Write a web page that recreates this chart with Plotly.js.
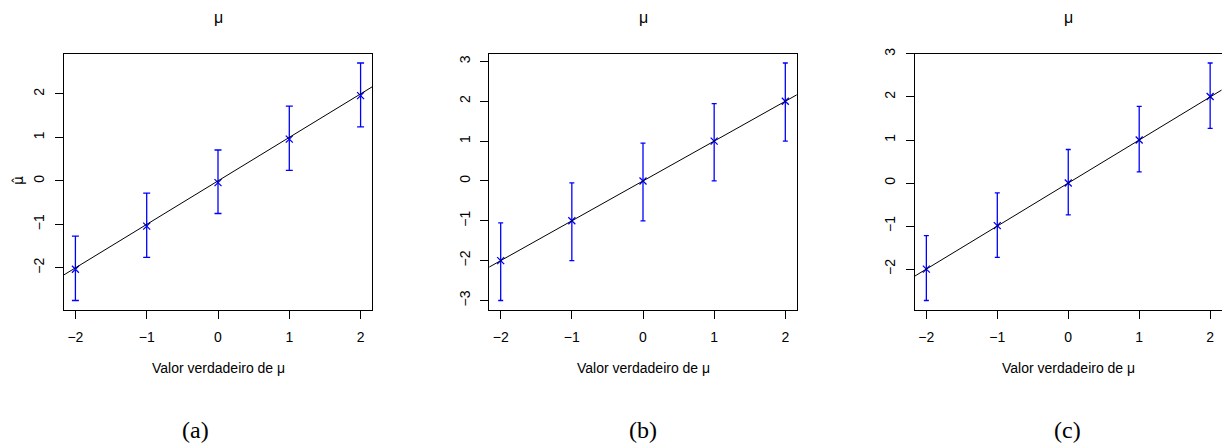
<!DOCTYPE html>
<html>
<head>
<meta charset="utf-8">
<script src="https://cdn.plot.ly/plotly-3.0.1.min.js"></script>
<style>
  html, body { margin: 0; padding: 0; background: #fff; }
  #chart { width: 1222px; height: 447px; }
</style>
</head>
<body>
<div id="chart"></div>
<script>
// True values of mu used in the simulation
const trueMu = [-2, -1, 0, 1, 2];

// Panel (a): mean estimate and interval bounds
const estA = [-2.03, -1.04, -0.04, 0.96, 1.96];
const lowA = [-2.75, -1.76, -0.75, 0.24, 1.24];
const upA  = [-1.27, -0.28, 0.71, 1.72, 2.71];

// Panel (b)
const estB = [-2.00, -1.00, 0.00, 1.00, 2.00];
const lowB = [-3.00, -2.00, -1.00, 0.00, 1.00];
const upB  = [-1.05, -0.05, 0.95, 1.94, 2.96];

// Panel (c)
const estC = [-2.00, -0.99, 0.00, 1.00, 2.01];
const lowC = [-2.73, -1.73, -0.74, 0.26, 1.27];
const upC  = [-1.22, -0.23, 0.78, 1.78, 2.79];

// Tick values
const xTicks  = [-2, -1, 0, 1, 2];
const yTicksA = [-2, -1, 0, 1, 2];
const yTicksB = [-3, -2, -1, 0, 1, 2, 3];
const yTicksC = [-2, -1, 0, 1, 2, 3];

// Text
const panelTitle = 'μ';
const xLabel = 'Valor verdadeiro de μ';
const yLabelA = 'μ̂';
const captions = ['(a)', '(b)', '(c)'];

// ---- layout helpers ----
const W = 1222, H = 447;
const px = v => v / W;
const py = v => 1 - v / H;

// R-style axis extension: data range padded by 4% on both sides
function padRange(lo, hi) {
  const d = (hi - lo) * 0.04;
  return [lo - d, hi + d];
}

const panels = [
  { est: estA, low: lowA, up: upA, yt: yTicksA, left: 64,    right: 372,   cap: 3.5 },
  { est: estB, low: lowB, up: upB, yt: yTicksB, left: 489.3, right: 796.7, cap: 2.5 },
  { est: estC, low: lowC, up: upC, yt: yTicksC, left: 915,   right: 1221.5, cap: 2.5 }
];
const plotTop = 53.5, plotBottom = 310;

const blue = '#0000ff';
const axisFont = { family: 'Liberation Sans, Arial, sans-serif', size: 14, color: '#000' };

const data = [];
const layout = {
  width: W, height: H,
  margin: { l: 0, r: 0, t: 0, b: 0 },
  paper_bgcolor: '#fff', plot_bgcolor: '#fff',
  showlegend: false,
  font: axisFont,
  annotations: []
};

panels.forEach((p, i) => {
  const n = i === 0 ? '' : String(i + 1);
  const xa = 'x' + n, ya = 'y' + n;

  const plus = p.up.map((u, k) => u - p.est[k]);
  const minus = p.est.map((e, k) => e - p.low[k]);

  data.push({
    type: 'scatter', mode: 'markers', x: trueMu, y: p.est,
    xaxis: xa, yaxis: ya,
    marker: { symbol: 'x-thin', size: 7, line: { color: blue, width: 1.3 }, color: blue },
    error_y: { type: 'data', symmetric: false, array: plus, arrayminus: minus,
               color: blue, thickness: 1.3, width: p.cap },
    hoverinfo: 'skip'
  });

  // identity line y = x, clipped to the plotting region
  const span = [-10, 10];
  data.push({
    type: 'scatter', mode: 'lines', x: span, y: span,
    xaxis: xa, yaxis: ya,
    line: { color: '#000', width: 1 },
    hoverinfo: 'skip'
  });

  const xr = padRange(Math.min(...trueMu), Math.max(...trueMu));
  const yr = padRange(Math.min(...p.low), Math.max(...p.up));

  layout['xaxis' + n] = {
    domain: [px(p.left), px(p.right)],
    anchor: ya, range: xr,
    tickmode: 'array', tickvals: xTicks,
    ticks: 'outside', ticklen: 8, tickwidth: 1, tickcolor: '#000',
    ticklabelstandoff: 6,
    showline: true, linecolor: '#000', linewidth: 1, mirror: true,
    showgrid: false, zeroline: false, tickfont: axisFont
  };
  layout['yaxis' + n] = {
    domain: [py(plotBottom), py(plotTop)],
    anchor: xa, range: yr,
    tickmode: 'array', tickvals: p.yt,
    ticks: 'outside', ticklen: 8, tickwidth: 1, tickcolor: '#000',
    tickangle: -90, ticklabelstandoff: 5,
    showline: true, linecolor: '#000', linewidth: 1, mirror: true,
    showgrid: false, zeroline: false, tickfont: axisFont
  };

  const cx = px((p.left + p.right) / 2);
  layout.annotations.push(
    { text: panelTitle, xref: 'paper', yref: 'paper', x: cx, y: py(17),
      xanchor: 'center', yanchor: 'middle', showarrow: false,
      font: { family: 'Liberation Sans, Arial, sans-serif', size: 16, color: '#000' } },
    { text: xLabel, xref: 'paper', yref: 'paper', x: cx, y: py(368),
      xanchor: 'center', yanchor: 'middle', showarrow: false, font: axisFont },
    { text: captions[i], xref: 'paper', yref: 'paper', x: px([195, 643, 1067][i]), y: py(430),
      xanchor: 'center', yanchor: 'middle', showarrow: false,
      font: { family: 'Liberation Serif, Times New Roman, serif', size: 24, color: '#000' } }
  );
});

layout.annotations.push({
  text: yLabelA, xref: 'paper', yref: 'paper', x: px(18), y: py(181),
  xanchor: 'center', yanchor: 'middle', textangle: -90, showarrow: false,
  font: { family: 'DejaVu Sans, sans-serif', size: 14, color: '#000' }
});

Plotly.newPlot('chart', data, layout, { staticPlot: true, displayModeBar: false });
</script>
</body>
</html>
